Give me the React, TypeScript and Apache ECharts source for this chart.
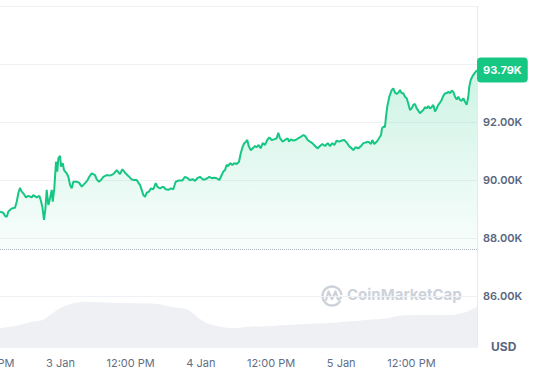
import React, { useEffect, useRef } from "react";
import * as echarts from "echarts";

// Hours after the series start (2 Jan, 13:40 local) and BTC price in thousands of USD
const priceHours = [
  0, 0.56, 0.85, 1.15, 1.42, 2.0, 2.56, 2.85, 3.13, 3.42, 3.71, 3.98, 4.44, 4.84, 5.42, 5.69, 6.27, 6.72, 6.96, 7.23,
  7.52, 7.74, 7.98, 8.26, 8.55, 8.84, 9.01, 9.28, 9.57, 9.79, 9.97, 10.26, 10.43, 10.72, 10.94, 11.4, 11.68, 11.97, 12.26, 12.53,
  13.11, 13.5, 13.97, 14.53, 14.92, 15.26, 15.68, 16.24, 16.53, 16.92, 17.26, 17.66, 18.24, 18.8, 19.37, 19.95, 20.22, 20.51, 20.91, 21.37,
  21.93, 22.51, 22.96, 23.37, 23.64, 23.93, 24.22, 24.5, 24.79, 25.08, 25.47, 25.81, 26.21, 26.62, 26.96, 27.35, 27.91, 28.32, 28.77, 29.23,
  29.62, 30.03, 30.48, 31.16, 31.62, 32.09, 32.48, 32.91, 33.33, 33.73, 34.19, 34.65, 35.04, 35.44, 35.78, 36.19, 36.58, 37.04, 37.49, 37.9,
  38.17, 38.46, 38.75, 39.03, 39.32, 39.71, 40.05, 40.46, 40.85, 41.15, 41.49, 41.76, 42.05, 42.27, 42.51, 42.85, 43.2, 43.59, 43.88, 44.22,
  44.56, 44.91, 45.3, 45.69, 46.03, 46.44, 46.84, 47.3, 47.57, 47.86, 48.32, 48.72, 49.18, 49.4, 49.74, 50.14, 50.55, 50.99, 51.45, 51.85,
  52.14, 52.6, 52.99, 53.39, 53.85, 54.31, 54.7, 55.09, 55.56, 56.02, 56.41, 56.8, 57.15, 57.56, 57.95, 58.41, 58.85, 59.27, 59.66, 60.12,
  60.39, 60.8, 61.25, 61.71, 62.11, 62.51, 62.96, 63.42, 63.64, 63.98, 64.39, 64.79, 65.13, 65.3, 65.56, 65.81, 65.98, 66.2, 66.55, 66.96,
  67.23, 67.52, 67.81, 68.09, 68.38, 68.67, 68.94, 69.23, 69.52, 69.79, 70.09, 70.37, 70.65, 70.94, 71.23, 71.5, 71.79, 72.08, 72.36, 72.65,
  72.94, 73.21, 73.5, 73.79, 74.07, 74.36, 74.65, 74.92, 75.21, 75.5, 75.78, 76.07, 76.36, 76.63, 76.92, 77.21, 77.49, 77.78, 78.07, 78.34,
  78.63, 78.92, 79.2, 79.49, 79.78, 80.05, 80.22, 80.46, 80.8, 81.2, 81.54,
];
const prices = [
  88.91, 88.87, 88.76, 88.73, 88.91, 89.02, 89.04, 89.25, 89.54, 89.73, 89.6, 89.54, 89.4, 89.45, 89.4, 89.48, 89.4, 89.45, 89.31, 89.08,
  88.62, 88.97, 89.66, 89.14, 89.37, 89.66, 89.25, 89.71, 90.63, 90.29, 90.75, 90.83, 90.46, 90.58, 90.34, 90.23, 90.11, 89.83, 89.71, 89.94,
  89.94, 89.91, 89.77, 89.89, 89.98, 90.11, 90.23, 90.17, 90.02, 89.94, 90.0, 90.11, 90.17, 90.15, 90.2, 90.34, 90.27, 90.2, 90.37, 90.25,
  90.14, 90.02, 90.0, 90.0, 89.91, 89.83, 89.66, 89.48, 89.42, 89.56, 89.6, 89.71, 89.68, 89.89, 89.75, 89.71, 89.77, 89.68, 89.66, 89.71,
  89.68, 89.94, 89.98, 89.98, 90.11, 90.06, 89.99, 90.03, 89.97, 90.06, 90.11, 90.02, 90.02, 90.06, 90.11, 90.06, 90.08, 90.06, 90.0, 90.17,
  90.29, 90.34, 90.52, 90.48, 90.58, 90.52, 90.58, 90.55, 90.63, 90.92, 91.15, 91.27, 91.32, 91.38, 91.17, 91.03, 91.09, 91.17, 91.13, 91.21,
  91.09, 91.27, 91.21, 91.38, 91.47, 91.38, 91.4, 91.44, 91.63, 91.44, 91.32, 91.38, 91.44, 91.32, 91.4, 91.36, 91.38, 91.44, 91.49, 91.55,
  91.52, 91.38, 91.32, 91.27, 91.17, 91.09, 91.17, 91.24, 91.17, 91.27, 91.17, 91.27, 91.21, 91.36, 91.32, 91.36, 91.38, 91.29, 91.17, 91.09,
  91.03, 91.13, 91.09, 91.17, 91.27, 91.29, 91.32, 91.24, 91.38, 91.24, 91.32, 91.44, 91.55, 91.78, 91.84, 91.83, 92.18, 92.53, 92.87, 93.1,
  93.16, 93.01, 92.97, 93.01, 93.1, 92.99, 92.99, 92.87, 92.82, 92.64, 92.41, 92.47, 92.59, 92.62, 92.47, 92.39, 92.3, 92.36, 92.41, 92.51,
  92.47, 92.55, 92.47, 92.51, 92.59, 92.36, 92.47, 92.59, 92.67, 92.76, 92.9, 92.99, 92.99, 93.04, 92.99, 93.08, 93.04, 92.87, 92.78, 92.87,
  92.76, 92.73, 92.82, 92.7, 92.59, 92.87, 93.22, 93.45, 93.59, 93.7, 93.79,
];

// Volume (billions USD) at hours after the start
const volumeHours = [
  0, 3.42, 5.64, 7.35, 8.55, 10.26, 12.48, 14.87, 18.8, 22.74, 26.84, 29.57, 31.97, 33.68, 35.38, 37.61, 39.83, 42.74,
  46.67, 51.28, 56.92, 62.74, 66.15, 67.86, 71.79, 76.92, 79.83, 81.54,
];
const volumes = [
  12.5, 14.7, 16.9, 18.0, 21.3, 25.8, 29.1, 30.2, 29.5, 29.1, 28.7, 26.5, 25.1, 20.2, 15.8, 13.5, 12.5, 13.5,
  14.0, 15.1, 16.2, 18.0, 19.1, 20.7, 21.3, 21.3, 23.5, 26.9,
];

const openPrice = 87.62;
const yTickLabels = [86, 88, 90, 92];
const watermarkText = "CoinMarketCap";
const unitText = "USD";

const GREEN = "#16c784";
const GREY = "#58667e";
const FONT = "Inter, 'Noto Sans', sans-serif";

export default function App() {
  const ref = useRef<HTMLDivElement>(null);

  useEffect(() => {
    if (!ref.current) return;
    const chart = echarts.init(ref.current, undefined, { renderer: "svg" });
    const H = 3600 * 1000;
    const START = new Date(2026, 0, 2, 13, 40, 0).getTime();
    const priceData = priceHours.map((h, i) => [START + h * H, prices[i]]);
    const volData = volumeHours.map((h, i) => [START + h * H, volumes[i]]);
    const OFF = 60; // the chart canvas starts 60px left of the window

    const option: any = {
      animation: false,
      backgroundColor: "#ffffff",
      textStyle: { fontFamily: FONT },
      grid: { left: 0, right: 57, top: 6, bottom: 25 },
      xAxis: {
        type: "time",
        min: START - 10.26 * H,
        max: START + 81.54 * H,
        minInterval: 12 * H,
        maxInterval: 12 * H,
        axisLine: { show: false },
        axisTick: { show: false },
        splitLine: { show: false },
        axisLabel: {
          color: "#616e85",
          fontSize: 11,
          fontFamily: FONT,
          margin: 10,
          showMinLabel: false,
          showMaxLabel: false,
          formatter: (v: number) => {
            const d = new Date(v);
            if (d.getMinutes() !== 0) return "";
            if (d.getHours() === 12) return "12:00 PM";
            if (d.getHours() === 0) return d.getDate() + " Jan";
            return "";
          },
        },
      },
      yAxis: [
        {
          type: "value",
          position: "right",
          min: 84.24,
          max: 96,
          axisLine: { show: true, lineStyle: { color: "#e6e9ee" } },
          axisTick: { show: false },
          splitLine: { show: true, lineStyle: { color: "#eff2f5", width: 1 } },
          axisLabel: {
            color: GREY,
            fontSize: 11,
            fontWeight: 600,
            fontFamily: FONT,
            margin: 6,
            formatter: (v: number) =>
              yTickLabels.indexOf(Math.round(v * 100) / 100) >= 0 ? v.toFixed(2) + "K" : "",
          },
        },
        {
          type: "value",
          min: 0,
          max: 227,
          show: false,
          splitLine: { show: false },
        },
      ],
      series: [
        {
          type: "line",
          name: "Volume",
          yAxisIndex: 1,
          data: volData,
          symbol: "none",
          smooth: 0.3,
          lineStyle: { width: 0 },
          areaStyle: { color: "#eef0f3", opacity: 1 },
          z: 1,
          silent: true,
        },
        {
          type: "line",
          name: "Price",
          yAxisIndex: 0,
          data: priceData,
          symbol: "none",
          lineStyle: { color: GREEN, width: 2 },
          areaStyle: {
            origin: openPrice,
            color: new echarts.graphic.LinearGradient(0, 0, 0, 1, [
              { offset: 0, color: "rgba(22,199,132,0.30)" },
              { offset: 1, color: "rgba(22,199,132,0.04)" },
            ]),
          },
          z: 3,
          markLine: {
            silent: true,
            symbol: ["none", "none"],
            label: { show: false },
            lineStyle: { type: "dotted", color: "#a8afbd", width: 1 },
            data: [{ yAxis: openPrice }],
          },
          endLabel: {
            show: true,
            distance: 0,
            formatter: (p: any) => p.value[1].toFixed(2) + "K",
            backgroundColor: GREEN,
            color: "#ffffff",
            fontSize: 11,
            fontWeight: "bold",
            fontFamily: FONT,
            padding: [7, 6],
            borderRadius: 4,
          },
        },
      ],
      graphic: [
        {
          type: "arc",
          shape: { cx: OFF + 332, cy: 296, r: 9.5, startAngle: 0.5, endAngle: Math.PI * 2 - 0.1 },
          style: { stroke: "#cdd2da", lineWidth: 2.4, fill: "none" },
          silent: true,
        },
        {
          type: "polyline",
          shape: {
            points: [
              [OFF + 326, 300],
              [OFF + 328.5, 291.5],
              [OFF + 332, 299],
              [OFF + 335.5, 291.5],
              [OFF + 338, 299.5],
              [OFF + 341, 298],
            ],
          },
          style: { stroke: "#cdd2da", lineWidth: 2.2, fill: "none", lineJoin: "round", lineCap: "round" },
          silent: true,
        },
        {
          type: "text",
          left: OFF + 347,
          top: 287,
          style: {
            text: watermarkText,
            fill: "#cdd2da",
            fontSize: 15,
            fontWeight: "bold",
            fontFamily: FONT,
          },
          silent: true,
        },
        {
          type: "text",
          left: OFF + 491,
          top: 340,
          style: {
            text: unitText,
            fill: GREY,
            fontSize: 12,
            fontWeight: "bold",
            fontFamily: FONT,
          },
          silent: true,
        },
      ],
    };
    chart.setOption(option);
    return () => chart.dispose();
  }, []);

  return (
    <div
      ref={ref}
      style={{ position: "absolute", left: -60, top: 0, width: 594, height: 372, background: "#fff" }}
    />
  );
}
